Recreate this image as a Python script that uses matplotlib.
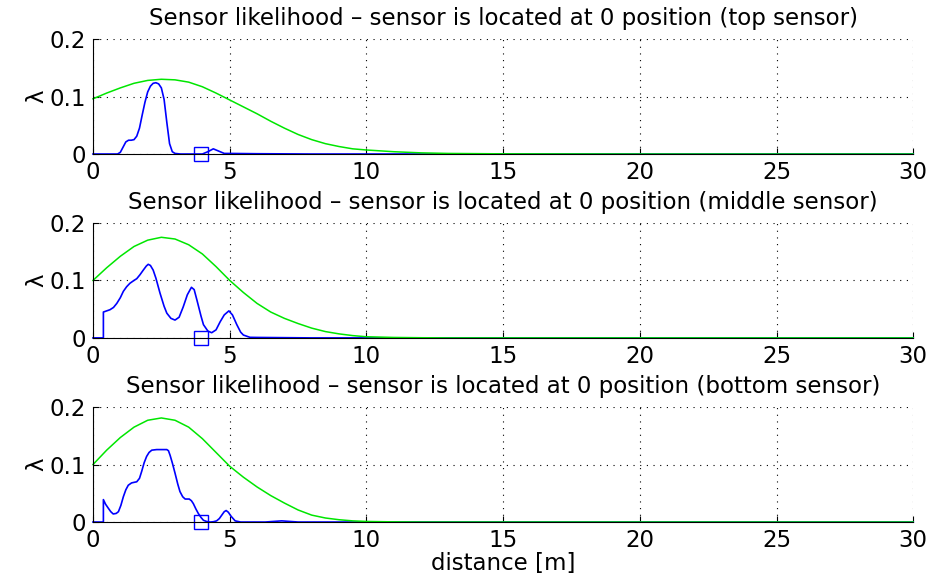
import matplotlib
matplotlib.use('Agg')
import matplotlib.pyplot as plt

plt.rcParams['font.family'] = ['DejaVu Sans']

titles = ['Sensor likelihood \u2013 sensor is located at 0 position (top sensor)',
          'Sensor likelihood \u2013 sensor is located at 0 position (middle sensor)',
          'Sensor likelihood \u2013 sensor is located at 0 position (bottom sensor)']

# measured likelihood (blue)
top_x = [0, 0.9, 1.0, 1.1, 1.2, 1.3, 1.4, 1.5, 1.6, 1.7, 1.8, 1.9, 2.0, 2.1, 2.2, 2.3, 2.4, 2.5,
         2.6, 2.7, 2.8, 2.9, 3.0, 3.2, 4.0, 4.2, 4.4, 4.6, 4.8, 5.0, 6.0, 8.0, 30]
top_y = [0, 0, 0.003, 0.012, 0.021, 0.024, 0.024, 0.025, 0.031, 0.045, 0.068, 0.090, 0.108, 0.118,
         0.123, 0.124, 0.122, 0.115, 0.095, 0.055, 0.018, 0.004, 0.001, 0, 0, 0.004, 0.009, 0.005,
         0.001, 0.001, 0.0005, 0, 0]

mid_x = [0, 0.38, 0.38, 0.5, 0.62, 0.75, 0.87, 1.0, 1.11, 1.23, 1.35, 1.5, 1.6, 1.72, 1.84, 1.95,
         2.02, 2.1, 2.2, 2.3, 2.45, 2.6, 2.7, 2.85, 3.0, 3.15, 3.3, 3.45, 3.6, 3.7, 3.8, 3.95, 4.04,
         4.2, 4.34, 4.5, 4.65, 4.8, 4.97, 5.1, 5.26, 5.4, 5.5, 5.74, 6.0, 8.0, 30]
mid_y = [0, 0, 0.045, 0.047, 0.049, 0.053, 0.060, 0.070, 0.081, 0.089, 0.095, 0.100, 0.103, 0.110,
         0.118, 0.125, 0.128, 0.126, 0.118, 0.104, 0.078, 0.055, 0.043, 0.034, 0.031, 0.036, 0.054,
         0.075, 0.088, 0.084, 0.066, 0.038, 0.023, 0.012, 0.009, 0.014, 0.028, 0.040, 0.047, 0.040,
         0.023, 0.010, 0.005, 0.001, 0.0008, 0, 0]

bot_x = [0, 0.38, 0.38, 0.46, 0.56, 0.65, 0.74, 0.85, 0.93, 1.02, 1.11, 1.2, 1.29, 1.41, 1.5, 1.6,
         1.7, 1.78, 1.87, 1.96, 2.05, 2.15, 2.33, 2.5, 2.7, 2.76, 2.82, 2.9, 3.0, 3.1, 3.18, 3.28,
         3.37, 3.52, 3.6, 3.67, 3.76, 3.85, 3.95, 4.04, 4.15, 4.28, 4.4, 4.52, 4.62, 4.71, 4.8,
         4.87, 4.95, 5.05, 5.2, 5.4, 6.3, 6.9, 7.5, 30]
bot_y = [0, 0, 0.039, 0.031, 0.024, 0.018, 0.014, 0.015, 0.018, 0.029, 0.044, 0.056, 0.064, 0.068,
         0.069, 0.070, 0.076, 0.088, 0.103, 0.114, 0.121, 0.125, 0.126, 0.126, 0.126, 0.124, 0.116,
         0.103, 0.085, 0.066, 0.053, 0.044, 0.040, 0.040, 0.037, 0.032, 0.023, 0.015, 0.008, 0.003,
         0.001, 0, 0.0005, 0.002, 0.006, 0.012, 0.018, 0.020, 0.017, 0.010, 0.002, 0, 0, 0.002, 0, 0]

# model likelihood (green)
model_x = [0, 0.5, 1.0, 1.5, 2.0, 2.5, 3.0, 3.5, 4.0, 4.5, 5.0, 5.5, 6.0, 6.5, 7.0, 7.5, 8.0, 8.5,
           9.0, 9.5, 10.0, 11.0, 12.0, 13.0, 15.0, 20.0, 30.0]
top_model = [0.096, 0.106, 0.115, 0.123, 0.128, 0.130, 0.129, 0.125, 0.117, 0.106, 0.094, 0.082,
             0.070, 0.057, 0.045, 0.034, 0.025, 0.018, 0.013, 0.009, 0.007, 0.004, 0.002, 0.001,
             0.0003, 0, 0]
mid_model = [0.100, 0.122, 0.142, 0.159, 0.170, 0.175, 0.172, 0.162, 0.146, 0.124, 0.100, 0.079,
             0.060, 0.045, 0.034, 0.025, 0.017, 0.011, 0.007, 0.004, 0.002, 0.0008, 0.0003, 0,
             0, 0, 0]
bot_model = [0.100, 0.125, 0.147, 0.165, 0.177, 0.181, 0.177, 0.165, 0.145, 0.121, 0.097, 0.078,
             0.061, 0.046, 0.033, 0.021, 0.012, 0.007, 0.004, 0.002, 0.001, 0.0003, 0, 0, 0, 0, 0]

sensor_pos = 3.94

blue_x = [top_x, mid_x, bot_x]
blue_y = [top_y, mid_y, bot_y]
green_y = [top_model, mid_model, bot_model]

fig = plt.figure(figsize=(9.3, 5.79), dpi=100)
tops = [0.9326, 0.615, 0.297]
h = 0.1986
fs = 16.5

for i in range(3):
    ax = fig.add_axes([0.1, tops[i] - h, 0.882, h])
    ax.plot(blue_x[i], blue_y[i], color=(0, 0, 1), lw=1.2, clip_on=False)
    ax.plot([sensor_pos], [0], 's', ms=9.5, mfc='none', mec=(0, 0, 1), mew=1.0, clip_on=False)
    ax.plot(model_x, green_y[i], color=(0, 0.9, 0), lw=1.1, clip_on=False)
    ax.set_xlim(0, 30)
    ax.set_ylim(0, 0.2)
    ax.set_xticks([0, 5, 10, 15, 20, 25, 30])
    ax.set_yticks([0, 0.1, 0.2])
    ax.set_yticklabels(['0', '0.1', '0.2'])
    ax.spines['top'].set_visible(False)
    ax.spines['right'].set_visible(False)
    ax.grid(True, color='black', linestyle=(0, (1, 5)), linewidth=0.8)
    ax.tick_params(direction='in', labelsize=fs, length=4, pad=5)
    ax.set_title(titles[i], fontsize=fs, pad=10)
    ax.set_ylabel('\u03bb', fontsize=fs, labelpad=1)
    if i == 2:
        ax.set_xlabel('distance [m]', fontsize=fs, labelpad=0)

fig.savefig('out.png', dpi=100)
